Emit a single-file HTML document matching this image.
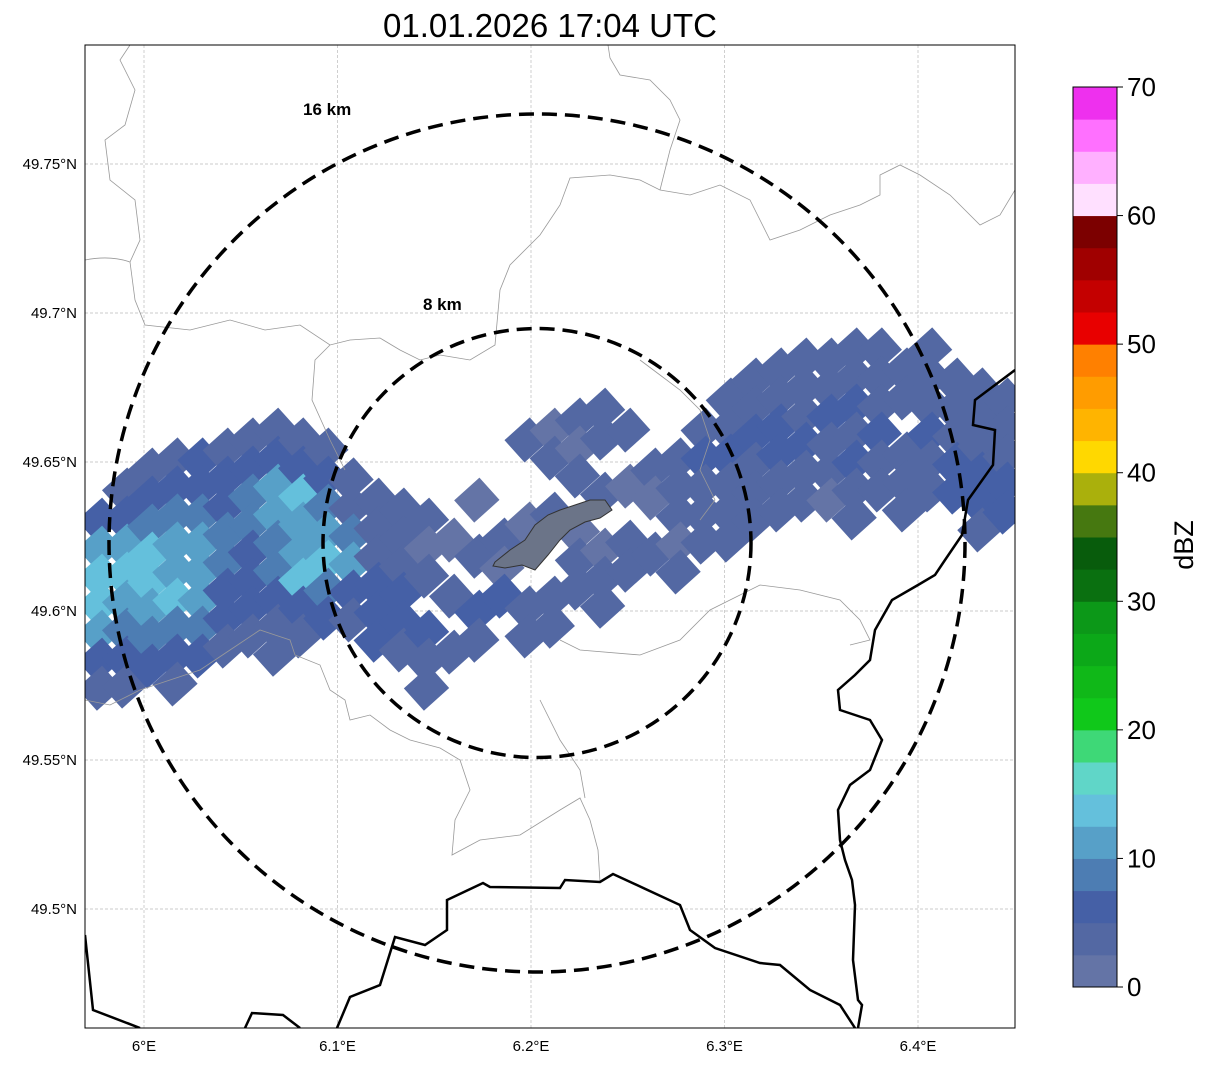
<!DOCTYPE html>
<html><head><meta charset="utf-8"><style>
body{margin:0;background:#fff;font-family:"Liberation Sans",sans-serif}
</style></head><body>
<svg id="c" width="1207" height="1064" xmlns="http://www.w3.org/2000/svg" font-family="Liberation Sans, sans-serif">
<defs><clipPath id="pc"><rect x="85" y="45" width="930" height="983"/></clipPath></defs>
<text x="550" y="37" font-size="33" text-anchor="middle">01.01.2026 17:04 UTC</text>
<g id="grid"></g>
<g clip-path="url(#pc)">
<g id="cells"></g>
<g fill="none" stroke="#999" stroke-width="0.8">
<path d="M85,260 Q110,255 130,262 L135,300 L145,325 L190,330 L230,320 L265,330 L300,325 L330,345 L350,340 L380,338 L400,350 L420,360 L440,355 L470,360 L495,345 L500,290 L510,265 L540,235 L560,205 L570,178 L610,175 L640,180 L660,190 L690,195 L720,185 L750,200 L770,240 L800,230 L830,215 L860,205 L880,195 L880,175 L900,165 L920,175 L950,195 L980,225 L1000,215 L1015,190"/>
<path d="M130,262 L140,240 L135,200 L110,180 L105,140 L125,125 L135,90 L120,60 L130,45"/>
<path d="M608,45 L610,58 L620,75 L650,80 L670,100 L680,120 L670,150 L660,190"/>
<path d="M330,345 L315,360 L312,400 L330,440 L345,470"/>
<path d="M640,360 L660,375 L680,390 L700,410 L710,440 L700,470 L715,500 L700,520"/>
<path d="M560,640 L580,650 L640,655 L680,640 L710,610 L730,600 L760,585 L800,590 L840,600 L860,620 L870,640 L850,645"/>
<path d="M85,700 L110,705 L140,690 L170,680 L200,670 L230,650 L260,630 L290,640 L295,655 L320,665 L330,690 L345,700 L350,720 L370,715 L390,730 L410,740 L440,748 L460,760 L470,790 L455,820 L452,855 L480,840 L520,835 L560,810 L580,798 L590,820 L598,850 L600,882"/>
<path d="M540,700 L560,740 L580,770 L585,798"/>
</g>
<g id="border" fill="none" stroke="#000" stroke-width="2.5">
<path d="M85,935 L93,1010 L140,1028"/>
<path d="M245,1028 L252,1013 L283,1015 L300,1028"/>
<path d="M337,1028 L350,997 L380,985 L395,937 L425,945 L447,930 L447,900 L483,883 L490,887 L560,888 L565,880 L600,882 L613,874 L680,905 L690,930 L715,948 L760,963 L780,965 L810,990 L840,1005 L855,1028"/>
<path d="M1015,370 L995,385 L975,400 L973,425 L995,430 L993,465 L968,500 L962,535 L945,560 L935,575 L918,585 L892,600 L875,630 L870,660 L855,675 L838,690 L840,710 L870,720 L882,740 L870,770 L850,785 L838,810 L840,840 L845,860 L852,880 L855,905 L853,960 L858,1000 L862,1005 L858,1028"/>
</g>
<path d="M495,562 L510,550 L525,540 L535,525 L548,515 L560,510 L575,505 L590,500 L605,500 L612,510 L600,518 L585,522 L570,530 L560,540 L548,555 L535,570 L522,565 L505,568 L493,566 Z" fill="#6b7488" stroke="#333" stroke-width="1"/>
<ellipse cx="537" cy="543" rx="214" ry="214.5" fill="none" stroke="#000" stroke-width="3.5" stroke-dasharray="15,8"/>
<ellipse cx="537" cy="543" rx="428" ry="429" fill="none" stroke="#000" stroke-width="3.5" stroke-dasharray="15,8"/>
</g>
<text x="303" y="115" font-size="17" font-weight="bold">16 km</text>
<text x="423" y="310" font-size="17" font-weight="bold">8 km</text>
<rect x="85" y="45" width="930" height="983" fill="none" stroke="#000" stroke-width="1"/>
<g id="axes"></g>
<g id="cbar"></g>
<text transform="translate(1193,545) rotate(-90)" font-size="27" text-anchor="middle">dBZ</text>
</svg>
<script>
const NS="http://www.w3.org/2000/svg";
const lonTicks=[6.0,6.1,6.2,6.3,6.4];
const lonLabels=["6°E","6.1°E","6.2°E","6.3°E","6.4°E"];
const latTicks=[49.75,49.7,49.65,49.6,49.55,49.5];
const latLabels=["49.75°N","49.7°N","49.65°N","49.6°N","49.55°N","49.5°N"];
const colLon=[5.977,5.990,6.003,6.016,6.029,6.042,6.055,6.068,6.081,6.094,6.107,6.120,6.133,6.146,6.159,6.172,6.185,6.198,6.211,6.224,6.237,6.250,6.263,6.276,6.289,6.302,6.315,6.328,6.341,6.354,6.367,6.380,6.393,6.406,6.419,6.432,6.445];
const colTopLat=[49.6305,49.6406,49.6473,49.6507,49.6507,49.654,49.6574,49.6607,49.6574,49.654,49.644,49.6372,49.6339,49.6305,49.6238,49.6372,49.6238,49.6574,49.6607,49.6641,49.6674,49.6607,49.6473,49.6507,49.6607,49.6708,49.6775,49.6809,49.6842,49.6842,49.6876,49.6876,49.6809,49.6876,49.6775,49.6742,49.6708];
const colDbz=[
[5,10,12.5,12.5,10,5,2.5],
[2.5,5,10,12.5,10,7.5,5,2.5],
[2.5,5,7.5,12.5,12.5,10,7.5,5],
[2.5,5,7.5,10,10,12.5,7.5,5,2.5],
[5,5,7.5,10,10,10,7.5,5],
[2.5,5,5,7.5,7.5,5,5,2.5],
[2.5,5,7.5,7.5,5,5,5,2.5],
[2.5,5,10,10,7.5,7.5,5,2.5,2.5],
[2.5,5,12.5,10,10,12.5,5,2.5],
[2.5,5,7.5,10,12.5,7.5,5],
[2.5,2.5,7.5,10,5,2.5],
[2.5,2.5,2.5,5,5,5],
[2.5,2.5,2.5,5,5,2.5],
[2.5,0,2.5,null,5,2.5,2.5],
[0,null,2.5,null,2.5],
[0,null,2.5,null,5,2.5],
[2.5,0,5],
[2.5,null,null,0,null,null,2.5,2.5],
[0,2.5,null,2.5,null,null,2.5,2.5],
[2.5,0,2.5,null,0,2.5,2.5],
[2.5,2.5,null,2.5,null,0,2.5,2.5],
[2.5,null,0,null,2.5,2.5],
[2.5,0,null,2.5],
[2.5,2.5,2.5,0,2.5],
[2.5,5,2.5,2.5,2.5],
[2.5,2.5,5,2.5,2.5,2.5],
[2.5,2.5,5,2.5,2.5,2.5],
[2.5,2.5,5,5,2.5,2.5],
[2.5,2.5,2.5,5,2.5,2.5],
[2.5,2.5,5,2.5,2.5,0],
[2.5,2.5,5,2.5,5,2.5,2.5],
[2.5,2.5,2.5,5,2.5,2.5],
[2.5,2.5,null,2.5,2.5,2.5],
[2.5,2.5,2.5,5,2.5,2.5],
[2.5,2.5,2.5,5,5],
[2.5,2.5,2.5,5,5,2.5],
[2.5,2.5,2.5,5,5]];
const latStep=0.0094;
const cbColors=["#6474a6","#5368a3","#4560a6","#4d7db3","#57a0c8","#64c0dc","#60d6c8","#3ed877","#10c81a","#10b818","#0ca818","#0c9818","#0a7010","#085c0c","#467810","#aab00c","#ffd800","#ffb400","#ff9c00","#ff8000","#e80000","#c40000","#a00000","#7c0000","#ffe0ff","#ffb0ff","#ff70ff","#ee30ee"];
const cbTicks=[0,10,20,30,40,50,60,70];
const xS=lon=>144+(lon-6)*1935;
const yS=lat=>611-(lat-49.6)*2980;
const cS=v=>987-v*900/70;
const grid=document.getElementById('grid'),axes=document.getElementById('axes');
lonTicks.forEach((t,i)=>{
 const l=document.createElementNS(NS,'line');
 l.setAttribute('x1',xS(t));l.setAttribute('x2',xS(t));l.setAttribute('y1',45);l.setAttribute('y2',1028);
 l.setAttribute('stroke','#bbb');l.setAttribute('stroke-width','0.7');l.setAttribute('stroke-dasharray','3,2');
 
 
 grid.appendChild(l);
 const tx=document.createElementNS(NS,'text');
 tx.setAttribute('x',xS(t));tx.setAttribute('y',1051);tx.setAttribute('font-size','15');tx.setAttribute('text-anchor','middle');
 tx.textContent=lonLabels[i];
 
 
 axes.appendChild(tx);
});
latTicks.forEach((t,i)=>{
 const l=document.createElementNS(NS,'line');
 l.setAttribute('x1',85);l.setAttribute('x2',1015);l.setAttribute('y1',yS(t));l.setAttribute('y2',yS(t));
 l.setAttribute('stroke','#bbb');l.setAttribute('stroke-width','0.7');l.setAttribute('stroke-dasharray','3,2');
 
 
 grid.appendChild(l);
 const tx=document.createElementNS(NS,'text');
 tx.setAttribute('x',77);tx.setAttribute('y',yS(t)+5);tx.setAttribute('font-size','15');tx.setAttribute('text-anchor','end');
 tx.textContent=latLabels[i];
 
 
 axes.appendChild(tx);
});
const cells=document.getElementById('cells');
colLon.forEach((lon,i)=>{
 colDbz[i].forEach((v,j)=>{
  if(v===null)return;
  const cx=xS(lon),cy=yS(colTopLat[i]-j*latStep);
  const r=document.createElementNS(NS,'rect');
  r.setAttribute('x',cx-17);r.setAttribute('y',cy-15);r.setAttribute('width',34);r.setAttribute('height',30);
  r.setAttribute('transform',`rotate(-42 ${cx} ${cy})`);
  r.setAttribute('fill',cbColors[Math.min(27,Math.floor(v/2.5))]);
  
  
  cells.appendChild(r);
 });
});
const cb=document.getElementById('cbar');
cbColors.forEach((c,i)=>{
 const r=document.createElementNS(NS,'rect');
 const y1=cS((i+1)*2.5),y0=cS(i*2.5);
 r.setAttribute('x',1073);r.setAttribute('y',y1);r.setAttribute('width',44);r.setAttribute('height',y0-y1+0.5);
 r.setAttribute('fill',c);
 
 
 cb.appendChild(r);
});
const fr=document.createElementNS(NS,'rect');
fr.setAttribute('x',1073);fr.setAttribute('y',87);fr.setAttribute('width',44);fr.setAttribute('height',900);
fr.setAttribute('fill','none');fr.setAttribute('stroke','#000');


cb.appendChild(fr);
cbTicks.forEach(t=>{
 const l=document.createElementNS(NS,'line');
 l.setAttribute('x1',1117);l.setAttribute('x2',1123);l.setAttribute('y1',cS(t));l.setAttribute('y2',cS(t));l.setAttribute('stroke','#000');
 
 
 cb.appendChild(l);
 const tx=document.createElementNS(NS,'text');
 tx.setAttribute('x',1127);tx.setAttribute('y',cS(t)+9);tx.setAttribute('font-size','26');
 tx.textContent=t;
 
 
 cb.appendChild(tx);
});
</script>
</body></html>
